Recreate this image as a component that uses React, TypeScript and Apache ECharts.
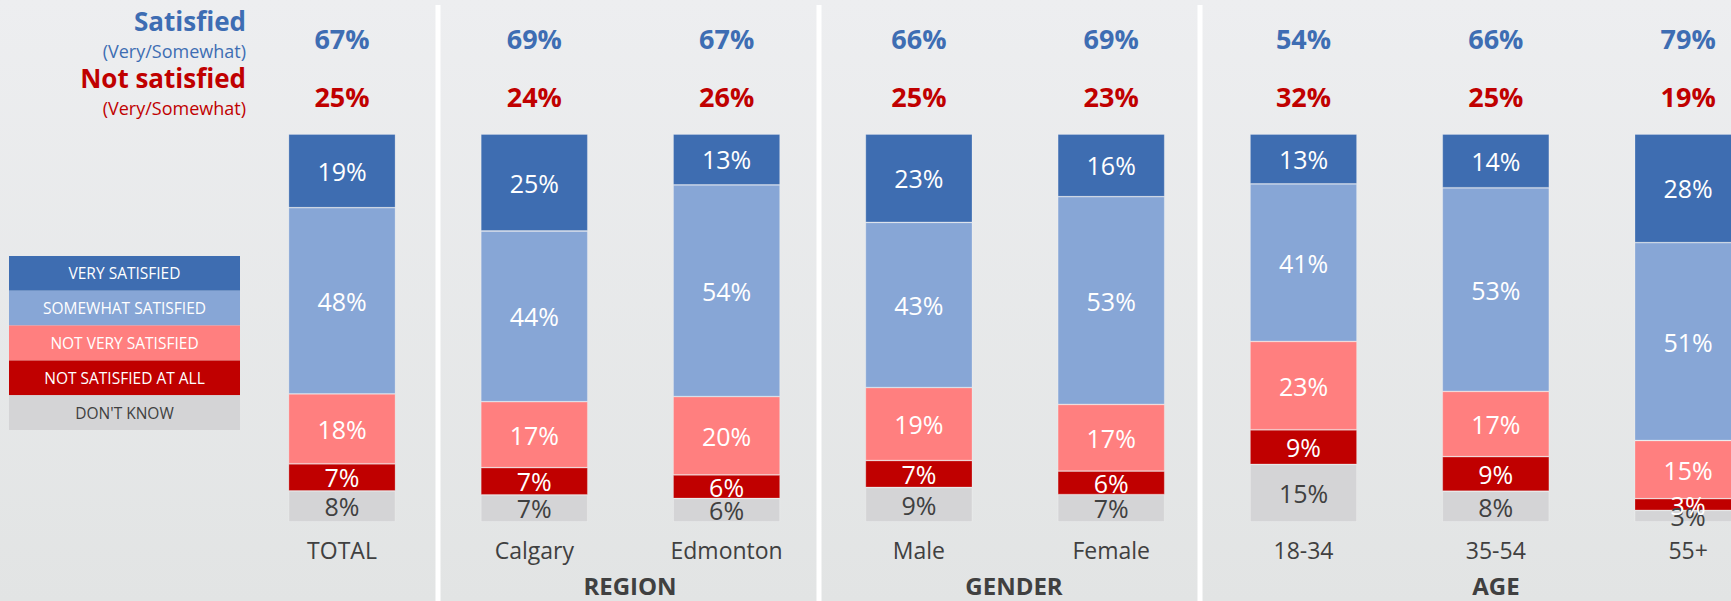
import React, { useEffect, useRef } from "react";
import * as echarts from "echarts";

const categories = ["TOTAL", "Calgary", "Edmonton", "Male", "Female", "18-34", "35-54", "55+"];
const verySatisfied = [19, 25, 13, 23, 16, 13, 14, 28];
const somewhatSatisfied = [48, 44, 54, 43, 53, 41, 53, 51];
const notVerySatisfied = [18, 17, 20, 19, 17, 23, 17, 15];
const notSatisfiedAtAll = [7, 7, 6, 7, 6, 9, 9, 3];
const dontKnow = [8, 7, 6, 9, 7, 15, 8, 3];
const satisfiedTotal = [67, 69, 67, 66, 69, 54, 66, 79];
const notSatisfiedTotal = [25, 24, 26, 25, 23, 32, 25, 19];
const seriesNames = ["DON'T KNOW", "NOT SATISFIED AT ALL", "NOT VERY SATISFIED", "SOMEWHAT SATISFIED", "VERY SATISFIED"];
const legendOrder = ["VERY SATISFIED", "SOMEWHAT SATISFIED", "NOT VERY SATISFIED", "NOT SATISFIED AT ALL", "DON'T KNOW"];
const groupLabels = ["REGION", "GENDER", "AGE"];

const COLORS: Record<string, string> = {
  "VERY SATISFIED": "#3E6DB1",
  "SOMEWHAT SATISFIED": "#87A6D6",
  "NOT VERY SATISFIED": "#FF7F7F",
  "NOT SATISFIED AT ALL": "#C00000",
  "DON'T KNOW": "#D4D4D6",
};
const BLUE = "#3E6DB3";
const RED = "#C00000";
const DARK = "#404040";
const FONT = "'Open Sans', 'Noto Sans', sans-serif";

export default function App() {
  const ref = useRef<HTMLDivElement>(null);
  useEffect(() => {
    if (!ref.current) return;
    const chart = echarts.init(ref.current, undefined, { renderer: "svg" });
    const raw = [dontKnow, notSatisfiedAtAll, notVerySatisfied, somewhatSatisfied, verySatisfied];
    const sums = categories.map((_, i) => raw.reduce((s, arr) => s + arr[i], 0));

    const gridLeft = 342;
    const gridWidth = 1346.1;

    const barSeries = seriesNames.map((name, si) => ({
      name,
      type: "bar",
      stack: "all",
      xAxisIndex: 0,
      yAxisIndex: 0,
      barWidth: 107,
      clip: false,
      itemStyle: { color: COLORS[name], borderColor: "rgba(255,255,255,0.3)", borderWidth: 0.8 },
      label: {
        show: true,
        position: "inside",
        fontFamily: FONT,
        fontSize: 25,
        color: name === "DON'T KNOW" ? DARK : "#FFFFFF",
        formatter: (p: any) => raw[si][p.dataIndex] + "%",
      },
      data: raw[si].map((v, i) => (v / sums[i]) * 100),
    }));

    const topSeries = [
      { vals: satisfiedTotal, y: 1, color: BLUE },
      { vals: notSatisfiedTotal, y: 0, color: RED },
    ].map((s) => ({
      type: "scatter",
      xAxisIndex: 1,
      yAxisIndex: 1,
      symbolSize: 1,
      clip: false,
      itemStyle: { color: "rgba(0,0,0,0)", opacity: 1 },
      label: {
        show: true,
        position: "inside",
        fontFamily: FONT,
        fontWeight: "bold",
        fontSize: 27,
        color: s.color,
        opacity: 1,
        formatter: (p: any) => s.vals[p.dataIndex] + "%",
      },
      data: s.vals.map((_, i) => [i, s.y]),
    }));

    const graphics: any[] = [];
    [438, 819, 1200].forEach((x) => {
      graphics.push({ type: "rect", shape: { x: x - 2.5, y: 5, width: 5, height: 600 }, style: { fill: "#FFFFFF" }, silent: true, z: -1 });
    });
    const leftTexts = [
      { t: "Satisfied", y: 21, size: 26, bold: true, color: BLUE },
      { t: "(Very/Somewhat)", y: 51, size: 18, bold: false, color: BLUE },
      { t: "Not satisfied", y: 78, size: 26, bold: true, color: RED },
      { t: "(Very/Somewhat)", y: 108, size: 18, bold: false, color: RED },
    ];
    leftTexts.forEach((l) => {
      graphics.push({
        type: "text",
        x: 246,
        y: l.y,
        style: {
          text: l.t,
          fill: l.color,
          font: `${l.bold ? "bold " : ""}${l.size}px ${FONT}`,
          textAlign: "right",
          textVerticalAlign: "middle",
        },
      });
    });
    const legTop = 256;
    const rowH = 34.8;
    legendOrder.forEach((name, i) => {
      graphics.push({
        type: "rect",
        shape: { x: 9, y: legTop + i * rowH, width: 231, height: rowH },
        style: { fill: COLORS[name] },
      });
      graphics.push({
        type: "text",
        x: 124.5,
        y: legTop + i * rowH + rowH / 2,
        style: {
          text: name,
          fill: name === "DON'T KNOW" ? DARK : "#FFFFFF",
          font: `15.5px ${FONT}`,
          textAlign: "center",
          textVerticalAlign: "middle",
        },
      });
    });
    const groupX = [630, 1014, 1496];
    groupLabels.forEach((g, i) => {
      graphics.push({
        type: "text",
        x: groupX[i],
        y: 585,
        style: {
          text: g,
          fill: DARK,
          font: `bold 24px ${FONT}`,
          textAlign: "center",
          textVerticalAlign: "middle",
        },
      });
    });

    chart.setOption({
      animation: false,
      backgroundColor: {
        type: "linear",
        x: 0,
        y: 0,
        x2: 0,
        y2: 1,
        colorStops: [
          { offset: 0, color: "#EDEEF0" },
          { offset: 1, color: "#E2E4E4" },
        ],
      },
      textStyle: { fontFamily: FONT },
      grid: [
        { left: gridLeft, width: gridWidth, top: 134, height: 388 },
        { left: gridLeft, width: gridWidth, top: 38, height: 58 },
      ],
      xAxis: [
        {
          type: "category",
          gridIndex: 0,
          data: categories,
          boundaryGap: false,
          axisLine: { show: false },
          axisTick: { show: false },
          splitLine: { show: false },
          axisLabel: { fontFamily: FONT, fontSize: 23, color: DARK, margin: 16, interval: 0 },
        },
        { type: "category", gridIndex: 1, data: categories, boundaryGap: false, show: false },
      ],
      yAxis: [
        { type: "value", gridIndex: 0, min: 0, max: 100, show: false },
        { type: "value", gridIndex: 1, min: 0, max: 1, show: false },
      ],
      series: [...barSeries, ...topSeries],
      graphic: graphics,
    });
    return () => chart.dispose();
  }, []);
  return <div ref={ref} style={{ position: "fixed", left: 0, top: 0, width: 1731, height: 601 }} />;
}
